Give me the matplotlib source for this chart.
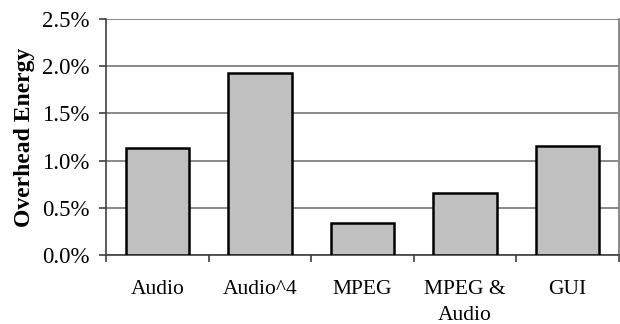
import matplotlib
matplotlib.use("Agg")
import matplotlib.pyplot as plt
import numpy as np
from matplotlib.ticker import FuncFormatter, FixedLocator

categories = ["Audio", "Audio^4", "MPEG", "MPEG &\nAudio", "GUI"]
values = [1.13, 1.93, 0.34, 0.66, 1.15]  # percent
yticks = [0.0, 0.5, 1.0, 1.5, 2.0, 2.5]

plt.rcParams['font.family'] = ['Liberation Serif', 'DejaVu Serif']

fig = plt.figure(figsize=(6.2, 3.24), dpi=100)
ax = fig.add_axes([0.171, 0.213, 0.827, 0.728])

x = np.arange(len(categories))
ax.bar(x, values, width=0.62, color="#c0c0c0", edgecolor="black", linewidth=1.8, zorder=3)

ax.set_xlim(-0.5, len(categories) - 0.5)
ax.set_ylim(0, 2.5)
ax.set_yticks(yticks)
ax.yaxis.set_major_formatter(FuncFormatter(lambda v, p: f"{v:.1f}%"))
ax.yaxis.grid(True, color="#808080", linewidth=1.3, zorder=0)

ax.set_xticks(x)
ax.set_xticklabels(categories, fontsize=15.5, linespacing=1.5)
ax.tick_params(axis='x', which='major', length=0, pad=18)
ax.xaxis.set_minor_locator(FixedLocator(np.arange(-0.5, len(categories), 1.0)))
ax.tick_params(axis='x', which='minor', length=5, width=1.2, color="#404040", direction='out')
ax.tick_params(axis='y', labelsize=16.5, length=5, width=1.2, color="#404040", direction='out', pad=7)

ax.spines["top"].set_visible(False)
ax.spines["right"].set_color("#808080")
ax.spines["right"].set_linewidth(1.3)
ax.spines["left"].set_color("#404040")
ax.spines["left"].set_linewidth(1.2)
ax.spines["bottom"].set_color("#404040")
ax.spines["bottom"].set_linewidth(1.2)

ax.set_ylabel("Overhead Energy", fontsize=17, fontweight="bold", labelpad=5)

fig.savefig("out.png", dpi=100)
